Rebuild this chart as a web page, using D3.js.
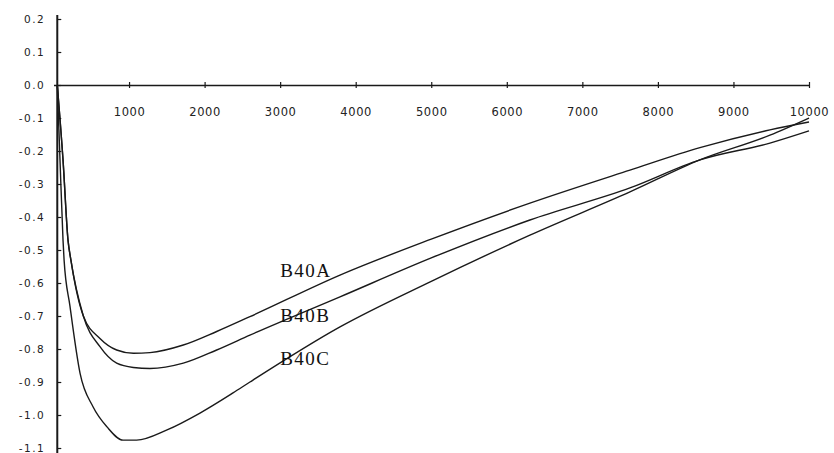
<!DOCTYPE html>
<html>
<head>
<meta charset="utf-8">
<script src="https://cdn.jsdelivr.net/npm/d3@7"></script>
<style>
  html, body { margin: 0; padding: 0; background: #fff; }
  svg { display: block; }
</style>
</head>
<body>
<svg id="chart" width="834" height="453"></svg>
<script>
// ---- data ----
const xTicks = [1000, 2000, 3000, 4000, 5000, 6000, 7000, 8000, 9000, 10000];
const yTicks = [0.2, 0.1, 0.0, -0.1, -0.2, -0.3, -0.4, -0.5, -0.6, -0.7, -0.8, -0.9, -1.0, -1.1];
const yTickLabels = ["0.2", "0.1", "0.0", "-0.1", "-0.2", "-0.3", "-0.4", "-0.5", "-0.6", "-0.7", "-0.8", "-0.9", "-1.0", "-1.1"];

const seriesNames = ["B40A", "B40B", "B40C"];
const seriesA = [[50,0],[126,-0.227],[192,-0.47],[230,-0.53],[395,-0.70],[615,-0.768],[836,-0.803],[1057,-0.813],[1277,-0.811],[1718,-0.788],[2160,-0.747],[2600,-0.702],[3792,-0.576],[5000,-0.467],[6306,-0.358],[7630,-0.258],[8556,-0.19],[9483,-0.136],[10000,-0.112]];
const seriesB = [[50,0],[126,-0.227],[192,-0.47],[230,-0.53],[395,-0.70],[615,-0.793],[836,-0.843],[1057,-0.856],[1277,-0.859],[1718,-0.843],[2160,-0.803],[2600,-0.758],[3792,-0.642],[5000,-0.524],[6306,-0.409],[7630,-0.312],[8556,-0.227],[9483,-0.176],[10000,-0.139]];
const seriesC = [[50,0],[86,-0.227],[126,-0.47],[140,-0.53],[218,-0.67],[351,-0.873],[523,-0.975],[708,-1.036],[920,-1.076],[1100,-1.076],[1503,-1.045],[1939,-0.994],[2376,-0.933],[2600,-0.9],[3792,-0.733],[5000,-0.595],[6306,-0.455],[7630,-0.324],[8556,-0.227],[9483,-0.152],[10000,-0.10]];
const labelX = [3000, 3000, 3000];
const labelY = [-0.582, -0.718, -0.848];

// ---- layout ----
const svg = d3.select("#chart");
const x = d3.scaleLinear().domain([0, 10000]).range([53.5, 809]);
const y = d3.scaleLinear().domain([-1.1, 0.2]).range([448, 19]);
const yAxisAtX = 50; // data x where the vertical axis sits

const ink = "#1a1a1a";

// x axis (through y = 0)
const xAxis = d3.axisBottom(x)
  .tickValues(xTicks)
  .tickFormat(d3.format("d"))
  .tickSizeInner(3)
  .tickSizeOuter(0)
  .tickPadding(20);
const gx = svg.append("g")
  .attr("transform", `translate(0,${y(0)})`)
  .call(xAxis);
gx.select(".domain").attr("stroke", ink).attr("stroke-width", 1.3);
gx.selectAll(".tick line").attr("y1", -3).attr("y2", 3).attr("stroke", ink).attr("stroke-width", 1.2);
gx.selectAll(".tick text")
  .attr("fill", "#222")
  .style("font-family", "DejaVu Sans, sans-serif")
  .style("font-size", "11.5px")
  .style("letter-spacing", "0.6px");

// y axis
const yAxis = d3.axisLeft(y)
  .tickValues(yTicks)
  .tickFormat((d, i) => yTickLabels[i])
  .tickSizeInner(-4)
  .tickSizeOuter(0)
  .tickPadding(12);
const gy = svg.append("g")
  .attr("transform", `translate(${x(yAxisAtX)},0)`)
  .call(yAxis);
gy.select(".domain").attr("stroke", ink).attr("stroke-width", 2)
  .attr("d", `M0,${y(0.2) - 4}V${y(-1.1) + 5}`);
gy.selectAll(".tick line").attr("stroke", ink).attr("stroke-width", 1.2);
gy.selectAll(".tick text")
  .attr("fill", "#222")
  .style("font-family", "DejaVu Sans, sans-serif")
  .style("font-size", "10.5px")
  .style("letter-spacing", "1.5px");

// curves
const line = d3.line()
  .x(d => x(d[0]))
  .y(d => y(d[1]))
  .curve(d3.curveMonotoneX);

[seriesA, seriesB, seriesC].forEach(s => {
  svg.append("path")
    .datum(s)
    .attr("fill", "none")
    .attr("stroke", ink)
    .attr("stroke-width", 1.4)
    .attr("d", line);
});

// curve labels
svg.append("g").selectAll("text")
  .data(seriesNames)
  .join("text")
  .attr("x", (d, i) => x(labelX[i]))
  .attr("y", (d, i) => y(labelY[i]))
  .attr("fill", "#111")
  .style("font-family", "Liberation Serif, serif")
  .style("font-size", "19px")
  .style("letter-spacing", "1.5px")
  .text(d => d);
</script>
</body>
</html>
